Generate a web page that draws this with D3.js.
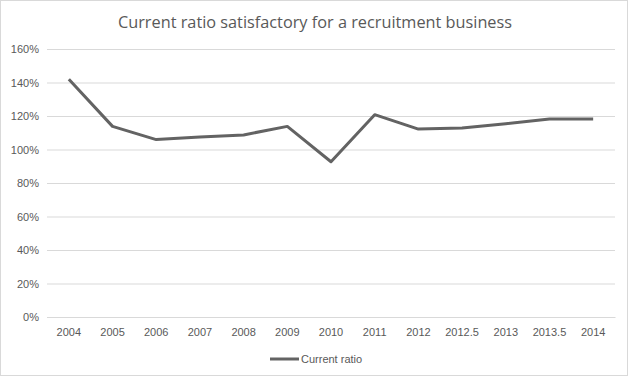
<!DOCTYPE html>
<html><head><meta charset="utf-8">
<script src="https://cdn.jsdelivr.net/npm/d3@7"></script>
<style>body{margin:0;background:#fff;}svg{display:block;font-family:"Liberation Sans Narrow","Liberation Sans",sans-serif;}</style>
</head><body><svg id="c" width="631" height="379"></svg>
<script>
const categories = ["2004","2005","2006","2007","2008","2009","2010","2011","2012","2012.5","2013","2013.5","2014"];
const currentRatio = [1.42, 1.138, 1.059, 1.075, 1.087, 1.138, 0.927, 1.208, 1.122, 1.128, 1.154, 1.182, 1.182];
const yTicks = [0,0.2,0.4,0.6,0.8,1.0,1.2,1.4,1.6];
const seriesName = "Current ratio";
const title = "Current ratio satisfactory for a recruitment business";

const svg = d3.select("#c");
const W = 631, H = 379;
svg.append("rect").attr("x",0.5).attr("y",0.5).attr("width",W-4).attr("height",H-4).attr("fill","#fff").attr("stroke","#d9d9d9");

const m = {l:47, r:615, t:49, b:317};
const x = d3.scaleBand().domain(categories).range([m.l, m.r]);
const y = d3.scaleLinear().domain([0,1.6]).range([m.b, m.t]);

svg.append("text").attr("x",315).attr("y",28).attr("text-anchor","middle")
  .attr("font-family","'Open Sans',sans-serif").attr("font-size",16.3).attr("fill","#595959").text(title);

const ya = svg.append("g").attr("transform",`translate(${m.l},0)`)
  .call(d3.axisLeft(y).tickValues(yTicks).tickSize(-(m.r-m.l)).tickFormat(d3.format(".0%")));
ya.select(".domain").remove();
ya.selectAll("line").attr("stroke","#d9d9d9");
ya.selectAll("text").attr("fill","#595959").attr("font-size",11).attr("x",-8);

const xa = svg.append("g").attr("transform",`translate(0,${m.b})`)
  .call(d3.axisBottom(x).tickSize(0));
xa.select(".domain").attr("stroke","#d9d9d9");
xa.selectAll("text").attr("fill","#595959").attr("font-size",11).attr("dy","1.45em");

const line = d3.line().x((d,i)=>x(categories[i])+x.bandwidth()/2).y(d=>y(d));
svg.append("path").datum(currentRatio).attr("d",line).attr("fill","none")
  .attr("stroke","#636363").attr("stroke-width",3).attr("stroke-linejoin","round");

const lg = svg.append("g");
lg.append("line").attr("x1",270).attr("x2",299).attr("y1",359).attr("y2",359).attr("stroke","#636363").attr("stroke-width",3);
lg.append("text").attr("x",301).attr("y",363).attr("font-size",11).attr("fill","#595959").text(seriesName);
</script></body></html>
